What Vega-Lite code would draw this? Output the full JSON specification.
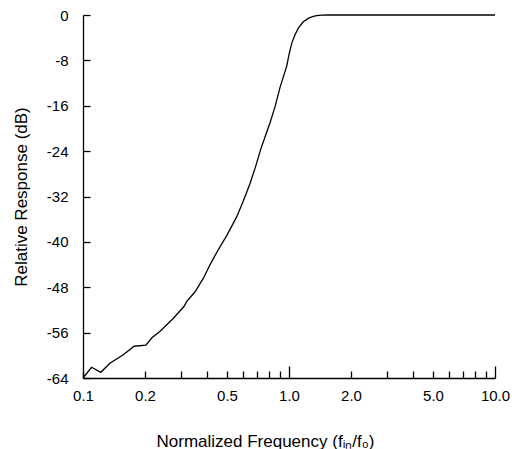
{
  "$schema": "https://vega.github.io/schema/vega-lite/v6.json",
  "autosize": "none",
  "padding": {"left": 83, "top": 15, "right": 20, "bottom": 71},
  "width": 412,
  "height": 363,
  "background": "white",
  "config": {
    "view": {"stroke": null},
    "font": "Liberation Sans",
    "axis": {
      "domainColor": "black",
      "tickColor": "black",
      "labelColor": "black",
      "titleColor": "black",
      "labelFont": "Liberation Sans",
      "titleFont": "Liberation Sans",
      "labelFontSize": 15,
      "titleFontSize": 17,
      "titleFontWeight": "normal",
      "domainWidth": 1.3,
      "tickWidth": 1.3,
      "grid": false
    }
  },
  "data": {
    "values": [
      {"f": 0.1, "db": -64},
      {"f": 0.110, "db": -62.1},
      {"f": 0.122, "db": -63.0},
      {"f": 0.135, "db": -61.4},
      {"f": 0.157, "db": -59.9},
      {"f": 0.177, "db": -58.4},
      {"f": 0.202, "db": -58.2},
      {"f": 0.216, "db": -56.9},
      {"f": 0.236, "db": -55.8},
      {"f": 0.274, "db": -53.5},
      {"f": 0.309, "db": -51.4},
      {"f": 0.319, "db": -50.5},
      {"f": 0.350, "db": -48.8},
      {"f": 0.384, "db": -46.4},
      {"f": 0.414, "db": -44.0},
      {"f": 0.450, "db": -41.6},
      {"f": 0.500, "db": -38.8},
      {"f": 0.557, "db": -35.6},
      {"f": 0.600, "db": -32.8},
      {"f": 0.647, "db": -29.7},
      {"f": 0.690, "db": -26.6},
      {"f": 0.730, "db": -23.6},
      {"f": 0.770, "db": -21.2},
      {"f": 0.809, "db": -19.0},
      {"f": 0.855, "db": -16.2},
      {"f": 0.904, "db": -12.8},
      {"f": 0.950, "db": -10.3},
      {"f": 0.975, "db": -9.0},
      {"f": 1.000, "db": -7.0},
      {"f": 1.031, "db": -5.0},
      {"f": 1.069, "db": -3.5},
      {"f": 1.110, "db": -2.3},
      {"f": 1.173, "db": -1.2},
      {"f": 1.241, "db": -0.6},
      {"f": 1.300, "db": -0.3},
      {"f": 1.360, "db": -0.12},
      {"f": 1.446, "db": -0.02},
      {"f": 1.55, "db": 0},
      {"f": 10, "db": 0}
    ]
  },
  "mark": {"type": "line", "color": "black", "strokeWidth": 1.3},
  "encoding": {
    "x": {
      "field": "f",
      "type": "quantitative",
      "scale": {"type": "log", "domain": [0.1, 10], "nice": false},
      "axis": {
        "title": "Normalized Frequency (fᵢₙ/f₀)",
        "values": [0.1, 0.2, 0.3, 0.4, 0.5, 0.6, 0.7, 0.8, 0.9, 1, 2, 3, 4, 5, 6, 7, 8, 9, 10],
        "labelExpr": "indexof([0.1, 0.2, 0.5, 1, 2, 5, 10], datum.value) >= 0 ? format(datum.value, '.1f') : ''",
        "tickSize": {"condition": {"test": "datum.value == 1 || datum.value == 10", "value": -12}, "value": -7},
        "labelPadding": {"condition": {"test": "datum.value == 1 || datum.value == 10", "value": 22}, "value": 17},
        "labelOverlap": false,
        "labelFlush": false,
        "titlePadding": 30,
        "titleX": 182,
        "titleAnchor": "start",
        "titleAlign": "center"
      }
    },
    "y": {
      "field": "db",
      "type": "quantitative",
      "scale": {"domain": [-64, 0], "nice": false},
      "axis": {
        "title": "Relative Response (dB)",
        "values": [-64, -56, -48, -40, -32, -24, -16, -8, 0],
        "labelExpr": "'' + datum.value",
        "tickSize": -7,
        "labelPadding": 22,
        "titlePadding": 16,
        "labelOverlap": false,
        "labelFlush": false
      }
    }
  }
}
